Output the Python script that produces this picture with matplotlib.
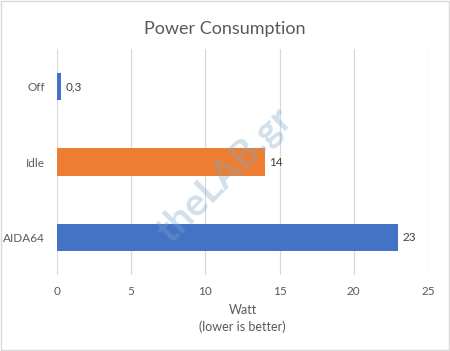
import matplotlib.pyplot as plt
from matplotlib.patches import Rectangle

categories = ['AIDA64', 'Idle', 'Off']
values = [23, 14, 0.3]
labels = ['23', '14', '0,3']
colors = ['#4472C4', '#ED7D31', '#4472C4']

plt.rcParams['font.family'] = ['Lato', 'DejaVu Sans']
txt = '#595959'

fig = plt.figure(figsize=(4.5, 3.51), dpi=100)
ax = fig.add_axes([0.1267, 0.2165, 0.8243, 0.6439])

ax.barh(range(len(categories)), values, height=0.36, color=colors, zorder=3)
for i, (v, lab) in enumerate(zip(values, labels)):
    ax.text(v + 0.3, i, lab, va='center', ha='left', fontsize=8.5, color='#404040')

ax.set_xlim(0, 25)
ax.set_ylim(-0.5, 2.5)
ax.set_xticks([0, 5, 10, 15, 20, 25])
ax.set_yticks(range(len(categories)))
ax.set_yticklabels(categories)
ax.tick_params(length=0, labelsize=8.5, colors=txt)
ax.tick_params(axis='x', pad=8)
ax.tick_params(axis='y', pad=9)
ax.grid(axis='x', color='#D9D9D9', linewidth=0.9, zorder=0)
for s in ax.spines.values():
    s.set_visible(False)

ax.set_xlabel('Watt\n(lower is better)', fontsize=9, color=txt, labelpad=5, linespacing=1.45)
fig.suptitle('Power Consumption', fontsize=13, color=txt, y=0.94)

# watermark
fig.text(0.5, 0.5, 'theLAB.gr', rotation=45, fontsize=28, color='#7FA7C9',
         alpha=0.35, ha='center', va='center', fontweight='bold', zorder=1)

fig.patches.append(Rectangle((0.002, 0.003), 0.996, 0.994, transform=fig.transFigure,
                             fill=False, edgecolor='#D9D9D9', linewidth=1))

plt.savefig('out.png', dpi=100)
